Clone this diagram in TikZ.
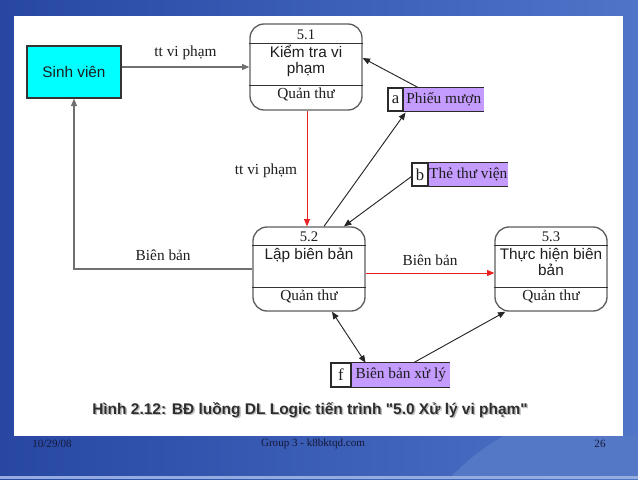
\documentclass[tikz,border=0pt]{standalone}
\usepackage{fontspec}
\setmainfont{Liberation Serif}
\setsansfont{Liberation Sans}
\newfontfamily\capfont{Liberation Sans}
\usetikzlibrary{arrows.meta,calc}
\definecolor{slidedark}{HTML}{2747A3}
\definecolor{slidelight}{HTML}{4F74C8}
\definecolor{slidearc}{HTML}{5578C6}
\definecolor{procline}{HTML}{5E5E5E}
\definecolor{inline}{HTML}{333333}
\definecolor{storeline}{HTML}{2A2A2A}
\definecolor{storefill}{HTML}{C49BFF}
\definecolor{svfill}{HTML}{00FFFF}
\definecolor{txt}{HTML}{1E1E1E}
\definecolor{flowgray}{HTML}{707070}
\definecolor{flowred}{HTML}{E82020}
\definecolor{captxt}{HTML}{2E2E2E}
\definecolor{footxt}{HTML}{15183A}
\begin{document}
\begin{tikzpicture}[x=0.75pt,y=-0.75pt,
  proc/.style={draw=procline, line width=1pt, rounded corners=10.5pt, minimum width=84pt, inner sep=0pt},
  sanslbl/.style={font=\sffamily\fontsize{11.5}{13}\selectfont, text=txt, inner sep=0pt, align=center},
  serlbl/.style={font=\fontsize{11.5}{13}\selectfont, text=txt, inner sep=0pt},
  numlbl/.style={font=\fontsize{11}{13}\selectfont, text=txt, inner sep=0pt},
  sid/.style={draw=storeline, line width=0.8pt, fill=white, minimum height=17.25pt, inner sep=0pt, font=\fontsize{12.5}{13}\selectfont, text=txt},
  sname/.style={fill=storefill, minimum height=17.25pt, inner sep=0pt, font=\fontsize{11.5}{13}\selectfont, text=txt, anchor=west},
  sedge/.style={draw=storeline, line width=0.8pt},
  inner/.style={draw=inline, line width=0.9pt},
  arr/.style={-{Triangle[length=5.5pt,width=4.5pt]}},
  darr/.style={{Triangle[length=5.5pt,width=4.5pt]}-{Triangle[length=5.5pt,width=4.5pt]}},
  gflow/.style={draw=flowgray, line width=0.9pt, arr},
  rflow/.style={draw=flowred, line width=0.6pt, -{Triangle[length=5.5pt,width=4.5pt,fill=flowred]}},
  kflow/.style={draw=black!85, line width=0.7pt, arr},
]
\useasboundingbox (0,0) rectangle (638,479);
% slide background
\shade[left color=slidedark, right color=slidelight] (0,0) rectangle (638,479);
\begin{scope}
  \clip (0,436) rectangle (638,476);
  \fill[slidearc] (620,640) circle[radius=235];
\end{scope}
\fill[slidelight!60!white] (0,476) rectangle (638,479);
\fill[white] (14,16) rectangle (623,436);

% external entity
\node[draw=inline, line width=1pt, fill=svfill, minimum width=70.5pt, minimum height=39pt, inner sep=0pt,
      font=\sffamily\fontsize{11.5}{13}\selectfont, text=txt] (sv) at (74,72) {Sinh viên};

% processes
\node[proc, minimum height=64.5pt] (p51) at (306,67) {};
\draw[inner] ($(p51.north west)+(0,20)$) -- ($(p51.north east)+(0,20)$);
\draw[inner] ($(p51.south west)+(0,-25)$) -- ($(p51.south east)+(0,-25)$);
\node[numlbl] (n51) at (306,35) {5.1};
\node[sanslbl] (t51) at (306,61) {Kiểm tra vi\\[-1.5pt]phạm};
\node[serlbl] (q51) at (306,94) {Quản thư};

\node[proc, minimum height=63pt] (p52) at (309,269) {};
\draw[inner] ($(p52.north west)+(0,19)$) -- ($(p52.north east)+(0,19)$);
\draw[inner] ($(p52.south west)+(0,-24)$) -- ($(p52.south east)+(0,-24)$);
\node[numlbl] (n52) at (309,237) {5.2};
\node[sanslbl] (t52) at (309,255) {Lập biên bản};
\node[serlbl] (q52) at (309,296) {Quản thư};

\node[proc, minimum height=63pt] (p53) at (551,269) {};
\draw[inner] ($(p53.north west)+(0,19)$) -- ($(p53.north east)+(0,19)$);
\draw[inner] ($(p53.south west)+(0,-24)$) -- ($(p53.south east)+(0,-24)$);
\node[numlbl] (n53) at (551,237) {5.3};
\node[sanslbl] (t53) at (551,262) {Thực hiện biên\\[-1.5pt]bản};
\node[serlbl] (q53) at (551,296) {Quản thư};

% data stores
\node[sid, minimum width=11.25pt] (sa) at (395.5,99.5) {a};
\node[sname, minimum width=60pt] (na) at (sa.east) {Phiếu mượn};
\draw[sedge] (na.north west) -- (na.north east) (na.south west) -- (na.south east);

\node[sid, minimum width=12pt] (sb) at (420,174.5) {b};
\node[sname, minimum width=59.25pt] (nb) at (sb.east) {Thẻ thư viện};
\draw[sedge] (nb.north west) -- (nb.north east) (nb.south west) -- (nb.south east);

\node[sid, minimum width=15pt, minimum height=18pt] (sf) at (341,375) {f};
\node[sname, minimum width=73.5pt, minimum height=18pt] (nf) at (sf.east) {Biên bản xử lý};
\draw[sedge] (nf.north west) -- (nf.north east) (nf.south west) -- (nf.south east);

% flows
\draw[gflow] (sv.east |- p51.west) -- (p51.west)
  node[serlbl, midway, above=5pt] (l1) {tt vi phạm};
\draw[rflow] (p51.south -| n51.south) ++(1,0) coordinate (r1s) -- (r1s |- p52.north);
\node[serlbl] (l2) at (266,171) {tt vi phạm};
\draw[gflow] (p52.west) -| (sv.south)
  node[serlbl, pos=0.25, above=6pt] (l3) {Biên bản};
\draw[rflow] ($(p52.east)+(0,4)$) -- ($(p53.west)+(0,4)$)
  node[serlbl, midway, above=5pt] (l4) {Biên bản};

\draw[kflow] ($(na.north west)+(15,0)$) -- ($(p51.east)+(0,-9)$);
\draw[kflow] ($(p52.north)+(15,0)$) -- ($(sa.south east)+(2,1)$);
\draw[kflow] ($(sb.west)+(0,2)$) -- ($(p52.north)+(35,0)$);
\draw[draw=black!85, line width=0.7pt, darr] ($(p52.south)+(23,0)$) -- ($(nf.north west)+(14,0)$);
\draw[kflow] ($(nf.north west)+(62,0)$) -- ($(p53.south west)+(11,0)$);

% caption
\node[font=\capfont\bfseries\fontsize{11.6}{13}\selectfont, text=black!25, inner sep=0pt] (capsh) at (311.5,411.5)
  {Hình 2.12: BĐ luồng DL Logic tiến trình "5.0 Xử lý vi phạm"};
\node[font=\capfont\bfseries\fontsize{11.6}{13}\selectfont, text=captxt, inner sep=0pt] (cap) at (310,410)
  {Hình 2.12: BĐ luồng DL Logic tiến trình "5.0 Xử lý vi phạm"};

% footer
\node[font=\fontsize{8.3}{10}\selectfont, text=footxt, inner sep=0pt] (fdate) at (52,444) {10/29/08};
\node[font=\fontsize{8.3}{10}\selectfont, text=footxt, inner sep=0pt] (fgrp) at (313,444) {Group 3 - k8bktqd.com};
\node[font=\fontsize{8.3}{10}\selectfont, text=footxt, inner sep=0pt] (fpg) at (600,444) {26};
\end{tikzpicture}
\end{document}
